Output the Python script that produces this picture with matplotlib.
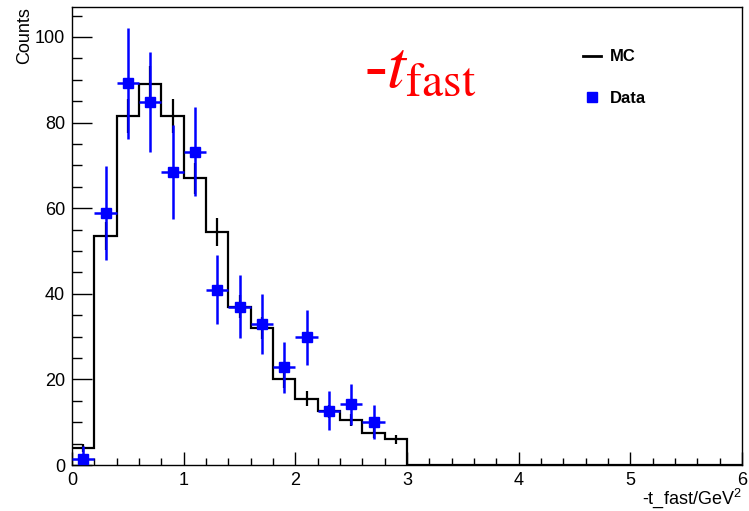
import numpy as np
import matplotlib.pyplot as plt
from matplotlib.lines import Line2D
from matplotlib.ticker import MultipleLocator

plt.rcParams['font.family'] = ['Liberation Sans', 'DejaVu Sans']
plt.rcParams['mathtext.fontset'] = 'custom'
plt.rcParams['mathtext.rm'] = 'Liberation Sans'

# MC histogram, bins of 0.2 from 0 to 6
bin_edges = [round(0.2 * i, 1) for i in range(31)]
mc_counts = [4, 53.5, 81.5, 89, 81.5, 67, 54.5, 37, 32, 20, 15.5, 12.5, 10.5, 7.5, 6] + [0] * 15
mc_err = [1, 3.3, 4, 4.2, 4, 3.6, 3.3, 2.7, 2.5, 2, 1.8, 1.6, 1.4, 1.2, 1.1]

# Data points
data_x = [0.1, 0.3, 0.5, 0.7, 0.9, 1.1, 1.3, 1.5, 1.7, 1.9, 2.1, 2.3, 2.5, 2.7]
data_y = [1.4, 58.8, 89.2, 84.9, 68.5, 73.2, 41.0, 37.0, 32.9, 22.8, 29.8, 12.7, 14.2, 10.1]
data_err = [3.0, 11, 13, 11.7, 11, 10.4, 8, 7.4, 7, 6, 6.5, 4.6, 4.8, 4]

fig = plt.figure(figsize=(7.49, 5.11), dpi=100)
ax = fig.add_axes([72 / 749, 46 / 511, 670 / 749, 458 / 511])

edges = np.array(bin_edges)
centers = (edges[:-1] + edges[1:]) / 2
ax.stairs(mc_counts, edges, color='black', linewidth=1.6, baseline=None, zorder=2)
ax.errorbar(centers[:len(mc_err)], mc_counts[:len(mc_err)], yerr=mc_err,
            fmt='none', ecolor='black', elinewidth=1.6, zorder=2)

ax.errorbar(data_x, data_y, yerr=data_err, xerr=0.1, fmt='s', color='#0000ff',
            markersize=7.5, elinewidth=1.8, capsize=0, zorder=3)

ax.set_xlim(0, 6)
ax.set_ylim(0, 107)

ax.xaxis.set_major_locator(MultipleLocator(1))
ax.xaxis.set_minor_locator(MultipleLocator(0.2))
ax.yaxis.set_major_locator(MultipleLocator(20))
ax.yaxis.set_minor_locator(MultipleLocator(5))
ax.tick_params(axis='x', which='major', direction='in', length=9.5, width=1, labelsize=13, pad=5)
ax.tick_params(axis='x', which='minor', direction='in', length=4.7, width=1)
ax.tick_params(axis='y', which='major', direction='in', length=14.5, width=1, labelsize=13, pad=5)
ax.tick_params(axis='y', which='minor', direction='in', length=7, width=1)
for s in ax.spines.values():
    s.set_linewidth(1)

ax.set_xlabel('-t_fast/GeV$^2$', fontsize=13, loc='right', labelpad=-2)
ax.set_ylabel('Counts', fontsize=13, loc='top', labelpad=1)

ax.text(0.436, 0.825, r'-$t_{\mathrm{fast}}$', transform=ax.transAxes, color='red',
        fontsize=49, family='Liberation Serif', math_fontfamily='stix')

handles = [Line2D([], [], color='black', linewidth=2),
           Line2D([], [], color='#0000ff', marker='s', linestyle='none', markersize=7)]
ax.legend(handles, ['MC', 'Data'], loc='upper left', bbox_to_anchor=(0.74, 0.94),
          frameon=False, handlelength=1.1, handletextpad=0.5, labelspacing=1.6,
          prop={'size': 12, 'weight': 'bold'})

fig.savefig('out.png', dpi=100)
